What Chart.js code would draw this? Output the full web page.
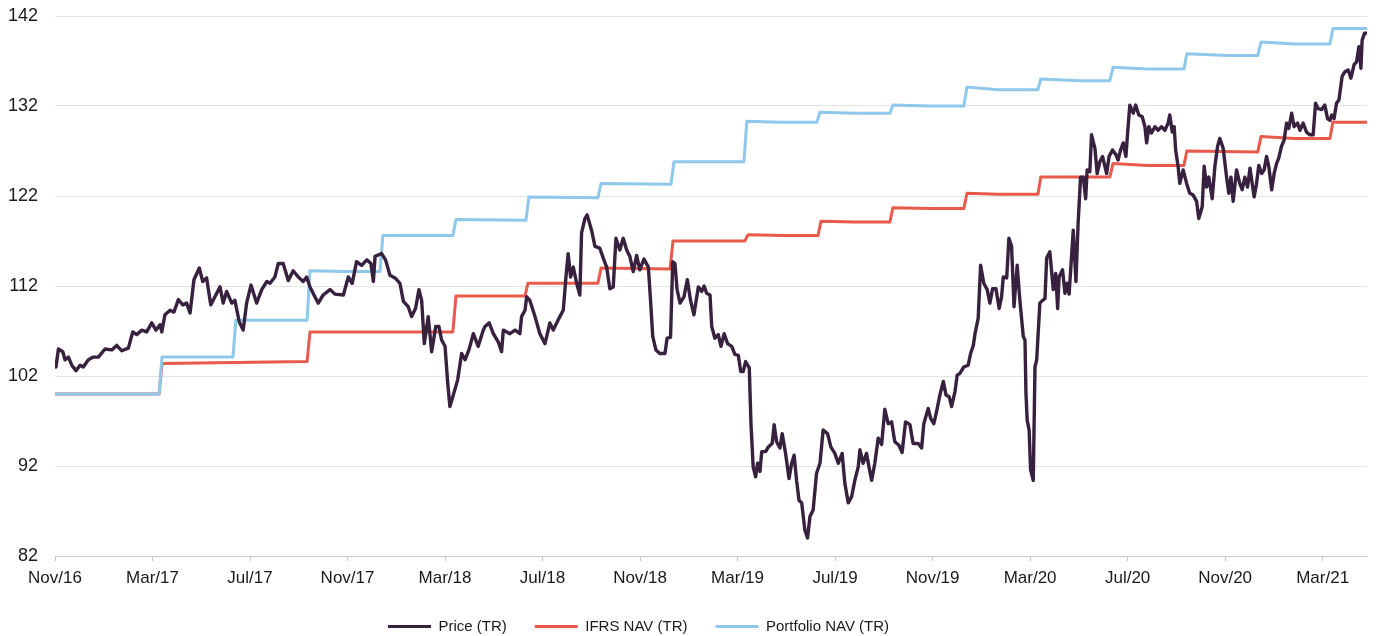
<!DOCTYPE html>
<html lang="en">
<head>
<meta charset="UTF-8">
<title>Price vs NAV (total return)</title>
<script src="https://cdn.jsdelivr.net/npm/chart.js"></script>
<style>
    html, body { margin: 0; padding: 0; background: #fff; }
    #wrap { width: 1376px; height: 636px; }
</style>
</head>
<body>
<div id="wrap"><canvas id="navChart"></canvas></div>
<script>
    // x values = months since 1 Nov 2016
    const tickMonths = [0, 4, 8, 12, 16, 20, 24, 28, 32, 36, 40, 44, 48, 52];
    const tickLabels = ['Nov/16', 'Mar/17', 'Jul/17', 'Nov/17', 'Mar/18', 'Jul/18', 'Nov/18',
                        'Mar/19', 'Jul/19', 'Nov/19', 'Mar/20', 'Jul/20', 'Nov/20', 'Mar/21'];

    const priceMonth = [
        0.04, 0.14, 0.32, 0.41, 0.55, 0.69, 0.86, 1.03, 1.16, 1.37, 1.57, 1.78, 2.05, 2.33, 2.53, 2.74,
        3.01, 3.19, 3.35, 3.56, 3.76, 3.97, 4.14, 4.31, 4.38, 4.51, 4.72, 4.88, 5.06, 5.24, 5.40, 5.54,
        5.70, 5.92, 6.06, 6.22, 6.39, 6.56, 6.77, 6.90, 7.04, 7.25, 7.38, 7.56, 7.72, 7.86, 8.04, 8.27,
        8.48, 8.69, 8.82, 9.02, 9.16, 9.36, 9.57, 9.77, 9.98, 10.18, 10.32, 10.46, 10.66, 10.80, 11.00, 11.28,
        11.48, 11.83, 12.03, 12.19, 12.37, 12.58, 12.79, 12.96, 13.06, 13.13, 13.40, 13.56, 13.74, 13.95, 14.15, 14.29,
        14.49, 14.63, 14.79, 14.93, 15.04, 15.15, 15.31, 15.45, 15.62, 15.75, 15.86, 16.00, 16.11, 16.20, 16.34, 16.52,
        16.68, 16.82, 16.98, 17.16, 17.36, 17.57, 17.64, 17.81, 17.98, 18.18, 18.32, 18.39, 18.66, 18.87, 19.07, 19.14,
        19.28, 19.35, 19.48, 19.69, 19.89, 20.10, 20.30, 20.44, 20.71, 20.85, 20.96, 21.05, 21.15, 21.26, 21.40, 21.53,
        21.60, 21.74, 21.83, 22.01, 22.15, 22.35, 22.49, 22.63, 22.76, 22.90, 23.01, 23.17, 23.31, 23.45, 23.58, 23.72,
        23.86, 23.99, 24.16, 24.34, 24.43, 24.52, 24.65, 24.81, 25.02, 25.11, 25.25, 25.34, 25.43, 25.52, 25.64, 25.80,
        25.94, 26.07, 26.21, 26.39, 26.53, 26.63, 26.73, 26.87, 26.94, 27.07, 27.21, 27.32, 27.45, 27.59, 27.76, 27.89,
        28.03, 28.13, 28.23, 28.33, 28.48, 28.55, 28.64, 28.74, 28.82, 28.92, 28.99, 29.15, 29.26, 29.42, 29.50, 29.60,
        29.74, 29.83, 29.97, 30.11, 30.22, 30.32, 30.42, 30.52, 30.63, 30.76, 30.87, 30.97, 31.10, 31.24, 31.38, 31.51,
        31.69, 31.83, 31.99, 32.13, 32.29, 32.40, 32.54, 32.68, 32.81, 32.95, 33.02, 33.15, 33.29, 33.39, 33.50, 33.63,
        33.77, 33.91, 34.04, 34.18, 34.32, 34.45, 34.62, 34.75, 34.89, 35.07, 35.20, 35.41, 35.55, 35.64, 35.82, 35.92,
        36.05, 36.16, 36.30, 36.44, 36.55, 36.68, 36.78, 36.92, 37.01, 37.12, 37.28, 37.46, 37.56, 37.67, 37.74, 37.87,
        37.97, 38.10, 38.24, 38.35, 38.46, 38.60, 38.73, 38.83, 38.90, 39.04, 39.13, 39.24, 39.34, 39.47, 39.58, 39.72,
        39.79, 39.83, 39.88, 39.96, 40.02, 40.13, 40.20, 40.27, 40.40, 40.51, 40.61, 40.68, 40.81, 40.95, 41.05, 41.13,
        41.19, 41.33, 41.43, 41.52, 41.60, 41.77, 41.88, 41.97, 42.07, 42.18, 42.28, 42.34, 42.45, 42.52, 42.66, 42.75,
        42.86, 42.97, 43.14, 43.24, 43.38, 43.52, 43.61, 43.71, 43.82, 43.93, 44.00, 44.09, 44.23, 44.33, 44.46, 44.60,
        44.71, 44.78, 44.87, 44.98, 45.12, 45.25, 45.39, 45.53, 45.66, 45.73, 45.83, 45.91, 45.97, 46.07, 46.14, 46.28,
        46.42, 46.55, 46.69, 46.83, 46.92, 47.06, 47.14, 47.24, 47.33, 47.47, 47.58, 47.69, 47.78, 47.92, 48.06, 48.15,
        48.24, 48.33, 48.47, 48.60, 48.70, 48.81, 48.92, 49.02, 49.11, 49.19, 49.29, 49.38, 49.50, 49.60, 49.70, 49.79,
        49.91, 50.01, 50.11, 50.20, 50.31, 50.42, 50.52, 50.61, 50.73, 50.83, 50.97, 51.07, 51.20, 51.34, 51.48, 51.61,
        51.71, 51.82, 51.96, 52.09, 52.20, 52.30, 52.37, 52.47, 52.57, 52.67, 52.80, 52.91, 53.05, 53.16, 53.29, 53.39,
        53.49, 53.57, 53.62, 53.72, 53.80
    ];
    const priceTR = [
        103.0, 105.0, 104.7, 103.8, 104.1, 103.2, 102.6, 103.2, 103.0, 103.8, 104.1, 104.1, 105.0, 104.9, 105.4, 104.8,
        105.1, 106.9, 106.6, 107.1, 106.9, 107.9, 107.1, 107.7, 106.9, 108.8, 109.3, 109.1, 110.5, 109.9, 110.1, 109.0,
        112.7, 114.0, 112.5, 112.9, 109.9, 110.8, 111.9, 110.1, 111.4, 110.1, 110.4, 108.0, 107.1, 110.1, 112.1, 110.1,
        111.6, 112.5, 112.3, 113.0, 114.5, 114.5, 112.6, 113.7, 113.0, 112.5, 113.0, 111.9, 110.8, 110.1, 111.0, 111.6,
        111.1, 111.0, 113.0, 112.3, 114.7, 114.3, 114.9, 114.5, 112.5, 115.3, 115.6, 114.9, 113.2, 112.9, 112.3, 110.3,
        109.7, 108.6, 109.5, 111.6, 110.4, 105.6, 108.6, 104.7, 107.5, 107.5, 106.0, 105.3, 101.2, 98.6, 99.9, 101.6,
        104.5, 103.8, 104.9, 106.7, 105.3, 107.1, 107.5, 107.9, 106.7, 105.8, 104.7, 107.1, 106.7, 107.1, 106.7, 108.6,
        109.3, 110.8, 110.4, 108.6, 106.7, 105.6, 107.9, 107.1, 108.6, 109.3, 113.0, 115.6, 113.0, 114.1, 112.3, 111.0,
        117.9, 119.5, 119.9, 118.2, 116.4, 116.2, 115.1, 114.1, 111.7, 111.9, 117.3, 116.0, 117.3, 116.0, 115.3, 113.6,
        115.4, 113.8, 115.0, 114.1, 110.4, 106.4, 104.9, 104.5, 104.5, 106.2, 106.3, 114.7, 114.5, 111.6, 110.1, 110.8,
        112.7, 110.4, 108.8, 111.9, 111.4, 112.0, 111.2, 111.0, 107.5, 106.2, 106.6, 105.3, 106.7, 105.6, 105.3, 104.4,
        104.3, 102.5, 102.5, 103.6, 102.9, 96.7, 91.9, 90.8, 92.3, 91.4, 93.6, 93.6, 94.1, 94.5, 96.6, 94.7,
        94.0, 95.6, 93.4, 90.6, 92.3, 93.2, 90.4, 88.2, 87.9, 84.9, 84.0, 86.4, 87.1, 91.2, 92.3, 96.0,
        95.6, 94.1, 93.4, 92.3, 93.4, 90.1, 87.9, 88.6, 90.4, 91.9, 93.8, 92.3, 93.4, 91.9, 90.4, 92.3,
        95.1, 94.4, 98.3, 96.7, 96.9, 94.7, 94.3, 93.5, 96.9, 96.6, 94.5, 94.5, 94.0, 96.7, 98.4, 97.3,
        96.7, 98.0, 99.9, 101.4, 99.9, 99.7, 98.6, 100.3, 102.1, 102.3, 103.0, 103.2, 104.5, 105.4, 106.7, 108.4,
        114.3, 112.3, 111.6, 110.1, 111.7, 111.7, 109.5, 110.8, 113.0, 112.9, 117.3, 116.4, 109.7, 114.3, 110.4, 106.4,
        106.0, 100.1, 97.1, 96.0, 91.6, 90.4, 103.0, 103.8, 110.1, 110.4, 110.6, 115.1, 115.8, 111.6, 113.4, 109.5,
        113.0, 113.8, 111.2, 112.3, 111.1, 118.2, 112.5, 119.0, 124.1, 124.1, 121.7, 124.9, 124.7, 128.8, 127.3, 124.5,
        125.8, 126.4, 124.5, 126.4, 127.1, 126.6, 126.0, 127.1, 127.9, 126.4, 129.0, 132.1, 131.2, 132.1, 131.0, 130.8,
        129.7, 127.9, 129.7, 129.0, 129.7, 129.3, 129.7, 129.3, 130.1, 131.0, 129.1, 129.7, 127.1, 125.3, 123.4, 124.9,
        123.4, 122.3, 122.1, 121.4, 119.5, 120.8, 125.3, 123.0, 124.1, 121.7, 125.3, 127.5, 128.4, 127.3, 124.1, 122.3,
        124.1, 121.4, 124.9, 123.4, 122.7, 124.1, 123.0, 125.1, 123.4, 121.9, 123.4, 125.4, 124.5, 124.9, 126.4, 125.3,
        122.7, 124.5, 125.6, 126.2, 127.5, 128.2, 130.1, 129.5, 131.2, 129.7, 130.1, 129.3, 130.1, 129.1, 128.8, 128.8,
        132.3, 131.7, 131.6, 132.1, 130.6, 130.4, 131.0, 130.6, 132.3, 132.7, 135.3, 135.8, 136.0, 135.1, 136.6, 136.9,
        138.6, 136.2, 139.3, 140.1, 140.1
    ];

    const ifrsMonth = [0, 4.27, 4.39, 7.34, 10.34, 10.46, 16.32, 16.45, 19.28, 19.40, 22.27, 22.40, 25.23, 25.35,
                       28.30, 28.43, 29.94, 31.30, 31.42, 32.81, 34.25, 34.37, 35.89, 37.28, 37.41, 38.68, 40.32, 40.44,
                       43.27, 43.40, 44.83, 46.31, 46.43, 49.34, 49.47, 50.86, 52.30, 52.42, 53.82];
    const ifrsNavTR = [100.0, 100.0, 103.4, 103.5, 103.6, 106.9, 106.9, 110.9, 110.9, 112.3, 112.3, 114.0, 113.9, 117.0,
                       117.0, 117.7, 117.6, 117.6, 119.2, 119.1, 119.1, 120.7, 120.6, 120.6, 122.3, 122.2, 122.2, 124.1,
                       124.1, 125.6, 125.4, 125.4, 127.0, 126.9, 128.6, 128.4, 128.4, 130.2, 130.2];

    const portMonth = [0, 4.27, 4.39, 7.30, 7.42, 10.34, 10.46, 11.85, 13.33, 13.45, 16.32, 16.45, 19.32, 19.44,
                       22.27, 22.40, 25.27, 25.39, 28.26, 28.38, 29.74, 31.25, 31.38, 32.81, 34.25, 34.37, 35.89, 37.28,
                       37.41, 38.68, 40.32, 40.44, 42.04, 43.27, 43.40, 44.83, 46.31, 46.43, 48.07, 49.34, 49.47, 50.86,
                       52.30, 52.42, 53.82];
    const portfolioNavTR = [100.0, 100.0, 104.1, 104.1, 108.2, 108.2, 113.7, 113.6, 113.6, 117.6, 117.6, 119.4, 119.3, 121.9,
                       121.8, 123.4, 123.3, 125.8, 125.8, 130.3, 130.2, 130.2, 131.3, 131.2, 131.2, 132.1, 132.0, 132.0,
                       134.1, 133.8, 133.8, 135.0, 134.8, 134.8, 136.3, 136.1, 136.1, 137.8, 137.6, 137.6, 139.1, 138.9,
                       138.9, 140.6, 140.6];

    function toPoints(xs, ys) {
        return xs.map((x, i) => ({ x: x, y: ys[i] }));
    }

    // legend in the original sits a bit left of centre
    const legendShift = {
        id: 'legendShift',
        afterLayout(chart) {
            if (chart.legend) {
                chart.legend.left -= 45;
                chart.legend.right -= 45;
            }
        }
    };

    Chart.defaults.font.family = "'Liberation Sans', Arial, sans-serif";
    Chart.defaults.color = '#1a1a1a';

    const ctx = document.getElementById('navChart').getContext('2d');
    new Chart(ctx, {
        type: 'line',
        data: {
            datasets: [
                {
                    label: 'Price (TR)',
                    data: toPoints(priceMonth, priceTR),
                    borderColor: '#38203f',
                    backgroundColor: '#38203f',
                    borderWidth: 3.4,
                    order: 0
                },
                {
                    label: 'IFRS NAV (TR)',
                    data: toPoints(ifrsMonth, ifrsNavTR),
                    borderColor: '#e85a4b',
                    backgroundColor: '#e85a4b',
                    borderWidth: 3,
                    order: 2
                },
                {
                    label: 'Portfolio NAV (TR)',
                    data: toPoints(portMonth, portfolioNavTR),
                    borderColor: '#8fc8ea',
                    backgroundColor: '#8fc8ea',
                    borderWidth: 3,
                    order: 1
                }
            ]
        },
        plugins: [legendShift],
        options: {
            responsive: true,
            maintainAspectRatio: false,
            animation: false,
            layout: { padding: { left: 0, right: 9, top: 16, bottom: -8 } },
            elements: {
                point: { radius: 0 },
                line: { tension: 0, borderJoinStyle: 'round', borderCapStyle: 'round' }
            },
            plugins: {
                tooltip: { enabled: false },
                legend: {
                    position: 'bottom',
                    labels: {
                        boxWidth: 43,
                        boxHeight: 3,
                        padding: 28,
                        font: { size: 15 },
                        generateLabels: function(chart) {
                            const items = Chart.defaults.plugins.legend.labels.generateLabels(chart);
                            items.forEach(it => { it.lineWidth = 0; });
                            return items;
                        },
                        sort: (a, b) => a.datasetIndex - b.datasetIndex
                    }
                }
            },
            scales: {
                x: {
                    type: 'linear',
                    min: 0,
                    max: 53.82,
                    afterBuildTicks: function(scale) {
                        scale.ticks = tickMonths.map(v => ({ value: v }));
                    },
                    afterFit: function(scale) { scale.height = 35; },
                    ticks: {
                        autoSkip: false,
                        maxRotation: 0,
                        padding: 7,
                        font: { size: 17 },
                        callback: function(value) {
                            const i = tickMonths.indexOf(value);
                            return i >= 0 ? tickLabels[i] : '';
                        }
                    },
                    grid: {
                        drawOnChartArea: false,
                        drawTicks: true,
                        tickLength: 5,
                        color: '#c8c8c8'
                    },
                    border: { display: true, color: '#c8c8c8' }
                },
                y: {
                    min: 82,
                    max: 142,
                    afterFit: function(scale) {
                        scale.width = 55;
                        scale.paddingTop = 0;
                        scale.paddingBottom = 0;
                    },
                    ticks: {
                        stepSize: 10,
                        padding: 17,
                        font: { size: 18 }
                    },
                    grid: {
                        color: '#e3e3e3',
                        drawTicks: false
                    },
                    border: { display: false }
                }
            }
        }
    });
</script>
</body>
</html>
